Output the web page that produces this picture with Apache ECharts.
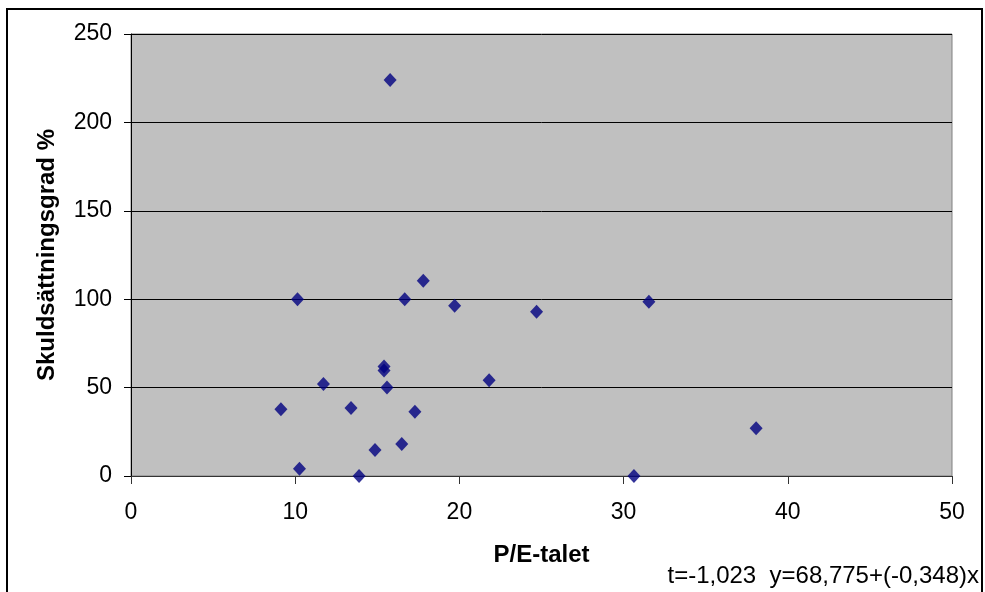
<!DOCTYPE html>
<html>
    <head>
        <meta charset="UTF-8">
        <title>Skuldsättningsgrad mot P/E-talet</title>
        <script type="text/javascript" src="https://cdn.jsdelivr.net/npm/echarts@6/dist/echarts.min.js"></script>
    </head>
    <body style="height: 100%; margin: 0; overflow: hidden; background: #fff;">
        <div id="container" style="width: 985px; height: 592px;"></div>
    </body>
    <script type="text/javascript">
        var dom = document.getElementById("container");
        var myChart = echarts.init(dom);
        var option;

        // P/E-talet (x) och skuldsättningsgrad % (y)
        const peTal = [15.78, 10.14, 16.67, 17.8, 19.71, 24.7, 31.54, 15.41, 15.41, 15.59, 11.72,
                       21.81, 9.13, 13.4, 17.29, 38.07, 16.49, 14.86, 10.26, 13.89, 30.63];
        const skuld = [224, 100, 100, 110.5, 96.3, 92.9, 98.6, 62, 59.7, 50, 52,
                       54.2, 37.8, 38.5, 36.3, 27, 18.1, 14.7, 4.1, 0, 0];
        const xTicks = [0, 10, 20, 30, 40, 50];
        const yTicks = [0, 50, 100, 150, 200, 250];
        const regText = 't=-1,023  y=68,775+(-0,348)x';

        const font = 'Liberation Sans, Arial, sans-serif';

        option = {
          animation: false,
          textStyle: { fontFamily: font },
          grid: {
            left: 131,
            top: 34,
            width: 821,
            height: 442,
            show: true,
            backgroundColor: '#C0C0C0',
            borderColor: '#808080',
            borderWidth: 1
          },
          xAxis: {
            type: 'value',
            min: xTicks[0],
            max: xTicks[xTicks.length - 1],
            interval: xTicks[1] - xTicks[0],
            name: 'P/E-talet',
            nameLocation: 'middle',
            nameGap: 67,
            nameTextStyle: { fontSize: 24, fontWeight: 'bold', color: '#000', fontFamily: font },
            axisLine: { onZero: false, lineStyle: { color: '#333', width: 1 } },
            axisTick: { show: true, inside: false, length: 8, lineStyle: { color: '#333' } },
            axisLabel: { fontSize: 23, color: '#000', margin: 25, fontFamily: font },
            splitLine: { show: false }
          },
          yAxis: {
            type: 'value',
            min: yTicks[0],
            max: yTicks[yTicks.length - 1],
            interval: yTicks[1] - yTicks[0],
            name: 'Skuldsättningsgrad %',
            nameLocation: 'middle',
            nameGap: 72,
            nameTextStyle: { fontSize: 24, fontWeight: 'bold', color: '#000', fontFamily: font },
            axisLine: { show: true, lineStyle: { color: '#000', width: 1 } },
            axisTick: { show: true, inside: false, length: 7, lineStyle: { color: '#000' } },
            axisLabel: { fontSize: 23, color: '#000', margin: 19, fontFamily: font },
            splitLine: { show: true, lineStyle: { color: '#000', width: 1 } }
          },
          series: [
            {
              type: 'scatter',
              symbol: 'diamond',
              symbolSize: [13, 14],
              itemStyle: { color: '#000080' },
              data: peTal.map(function (x, i) { return [x, skuld[i]]; })
            }
          ],
          graphic: [
            {
              type: 'rect',
              shape: { x: 7, y: 9, width: 975, height: 600 },
              style: { fill: 'none', stroke: '#000', lineWidth: 2 },
              silent: true
            },
            {
              type: 'text',
              right: 6,
              top: 564,
              style: { text: regText, font: '24px ' + font, fill: '#000' }
            }
          ]
        };

        if (option && typeof option === 'object') {
            myChart.setOption(option);
        }
    </script>
</html>
